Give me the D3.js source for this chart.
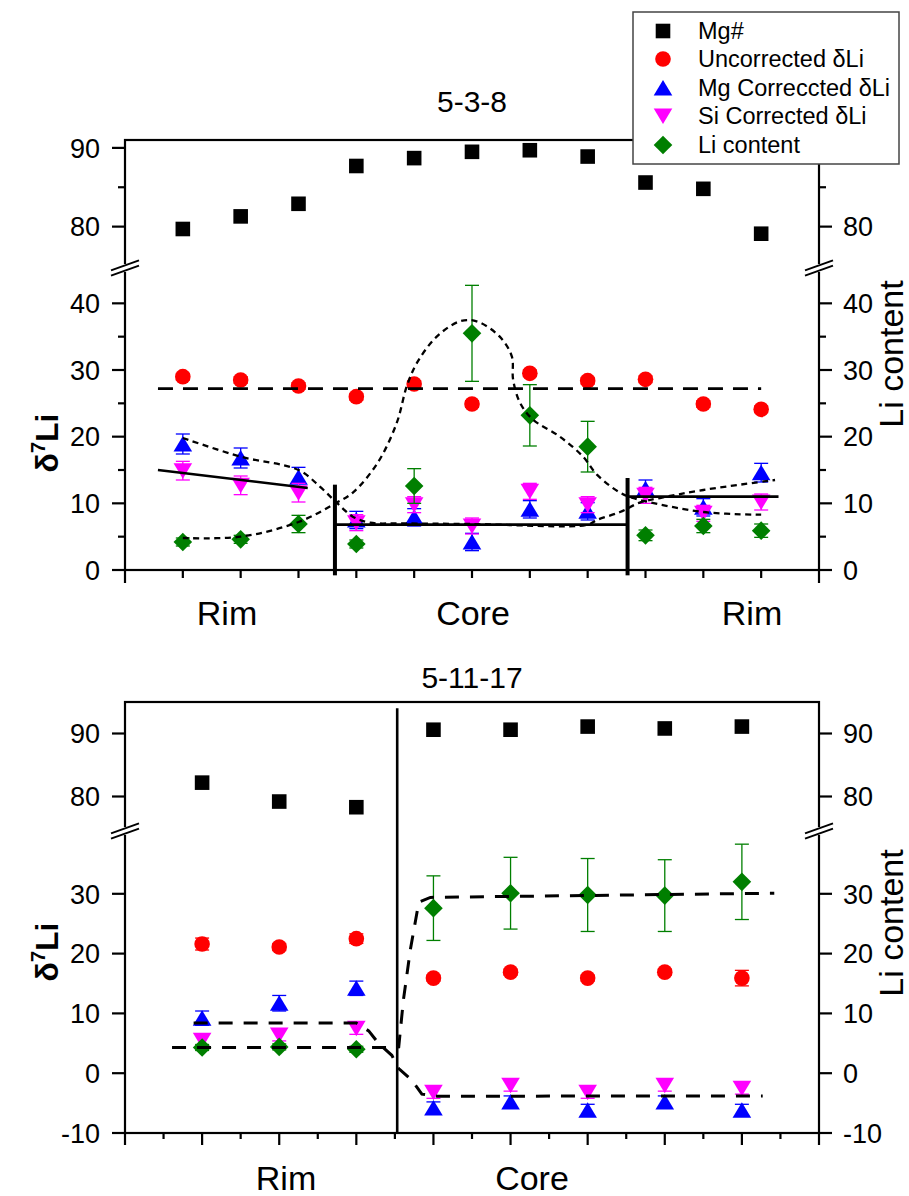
<!DOCTYPE html>
<html>
<head>
<meta charset="utf-8">
<script src="https://cdn.jsdelivr.net/npm/d3@7"></script>
<style>
  body { margin: 0; background: #fff; }
  svg { font-family: "Liberation Sans", Arial, sans-serif; }
</style>
</head>
<body>
<svg id="chart" width="909" height="1196"></svg>
<script>
// ---------------- Sample 5-3-8 : rim - core - rim profile ----------------
const pos538     = [1, 2, 3, 4, 5, 6, 7, 8, 9, 10, 11];
const mg538      = [79.7, 81.3, 82.9, 87.7, 88.7, 89.5, 89.7, 88.9, 85.6, 84.8, 79.1];
const unc538     = [29.0, 28.5, 27.6, 26.0, 27.9, 24.9, 29.5, 28.4, 28.6, 24.9, 24.1];
const uncErr538  = [0.5, 0.5, 0.5, 0.5, 0.5, 0.5, 0.5, 0.5, 0.5, 0.5, 0.5];
const mgc538     = [18.9, 16.8, 13.9, 7.5, 7.9, 4.2, 9.1, 8.8, 12.2, 9.4, 14.6];
const mgcErr538  = [1.5, 1.5, 1.5, 1.3, 1.3, 1.3, 1.3, 1.3, 1.3, 1.3, 1.4];
const sic538     = [14.9, 12.7, 11.6, 7.1, 9.8, 6.6, 11.8, 9.8, 11.2, 8.5, 10.2];
const sicErr538  = [1.4, 1.4, 1.4, 1.2, 1.2, 1.2, 1.2, 1.2, 1.2, 1.2, 1.2];
const li538      = [4.2, 4.6, 6.9, 3.9, 12.6, 35.5, 23.2, 18.5, 5.2, 6.6, 5.9];
const liErr538   = [0.6, 0.6, 1.3, 0.6, 2.6, 7.2, 4.6, 3.8, 0.8, 1.0, 1.0];

// trend lines of 5-3-8
const uncMean538   = 27.2;
const uncMeanSpan  = [0.57, 11.0];
const rimFitLeft   = [[0.57, 15.0], [3.16, 12.3]];
const coreFit538   = [[3.63, 6.8], [8.69, 6.8]];
const rimFitRight  = [[8.69, 11.0], [11.3, 11.0]];
const zoneBounds538 = [[3.63, 12.8], [8.69, 13.8]];
const mgTrend538 = [[1.0, 19.8], [2.0, 17.0], [3.0, 15.0], [3.37, 12.5], [3.66, 10.1], [3.94, 8.0],
  [4.24, 7.1], [4.8, 7.0], [6.0, 6.9], [8.0, 6.8], [8.16, 7.5], [8.56, 8.7], [8.9, 10.1],
  [9.25, 10.8], [10.0, 12.0], [11.24, 13.5]];
const liTrend538 = [[1.0, 4.8], [2.0, 5.0], [3.0, 7.2], [3.66, 10.1], [3.94, 11.6], [4.37, 16.1],
  [4.7, 22.1], [4.87, 27.5], [5.05, 31.1], [5.39, 35.0], [5.79, 37.3], [6.08, 37.3], [6.48, 35.0],
  [6.69, 32.0], [6.71, 28.6], [6.83, 25.1], [7.05, 22.6], [7.52, 20.0], [7.92, 17.0], [8.16, 14.3],
  [8.56, 11.6], [8.78, 10.8], [10.0, 8.7], [11.0, 8.3]];

// ---------------- Sample 5-11-17 : rim - core profile ----------------
const pos51117    = [1, 2, 3, 4, 5, 6, 7, 8];
const mg51117     = [82.2, 79.2, 78.3, 90.6, 90.6, 91.1, 90.8, 91.1];
const unc51117    = [21.6, 21.1, 22.5, 15.9, 16.9, 15.9, 16.9, 15.9];
const uncErr51117 = [1.0, 0.6, 0.8, 0.5, 0.5, 0.5, 0.5, 1.3];
const mgc51117    = [9.2, 11.7, 14.2, -5.8, -4.8, -6.2, -4.8, -6.2];
const mgcErr51117 = [1.2, 1.3, 1.2, 1.0, 1.0, 1.0, 1.0, 1.0];
const sic51117    = [5.5, 6.4, 7.5, -3.2, -2.0, -3.2, -2.0, -2.5];
const sicErr51117 = [1.0, 1.0, 1.0, 1.0, 1.0, 1.0, 1.0, 1.0];
const li51117     = [4.3, 4.4, 4.0, 27.6, 30.1, 29.8, 29.7, 32.0];
const liErr51117  = [0.5, 0.5, 0.5, 5.4, 6.0, 6.1, 6.0, 6.3];

// trend lines of 5-11-17
const zoneBound51117 = 3.53;
const mgTrend51117 = [[0.89, 8.4], [3.0, 8.4], [3.16, 7.07], [3.29, 4.96], [3.46, 3.0], [3.55, 0.78],
  [3.72, -1.17], [3.85, -3.5], [4.05, -3.85], [8.27, -3.8]];
const liTrend51117 = [[0.61, 4.3], [3.45, 4.3], [3.55, 4.4], [3.61, 12.2], [3.70, 20.6], [3.81, 28.6],
  [3.96, 29.4], [8.42, 30.1]];

// ---------------- labels ----------------
const legendLabels = ["Mg#", "Uncorrected δLi", "Mg Correccted δLi", "Si Corrected δLi", "Li content"];
const colors = { mg: "#000000", unc: "#ff0000", mgc: "#0000ff", sic: "#ff00ff", li: "#007f00" };

const svg = d3.select("#chart");

// marker shapes centred on their bounding box
function marker(kind) {
  switch (kind) {
    case "square": return "M-7.3,-7.3H7.3V7.3H-7.3Z";
    case "up":     return "M0,-8L9.3,7.5L-9.3,7.5Z";
    case "down":   return "M0,8L9.3,-7.5L-9.3,-7.5Z";
    case "diamond":return "M0,-9.3L9.3,0L0,9.3L-9.3,0Z";
    default:       return null;
  }
}

function drawSeries(g, x, y, xs, ys, errs, kind, color) {
  if (errs) {
    const eb = g.append("g").attr("stroke", color).attr("stroke-width", 1.3);
    xs.forEach((p, i) => {
      const cx = x(p), lo = y(ys[i] - errs[i]), hi = y(ys[i] + errs[i]);
      eb.append("line").attr("x1", cx).attr("x2", cx).attr("y1", lo).attr("y2", hi);
      eb.append("line").attr("x1", cx - 7).attr("x2", cx + 7).attr("y1", lo).attr("y2", lo);
      eb.append("line").attr("x1", cx - 7).attr("x2", cx + 7).attr("y1", hi).attr("y2", hi);
    });
  }
  const mg = g.append("g").attr("fill", color);
  xs.forEach((p, i) => {
    if (kind === "circle") {
      mg.append("circle").attr("cx", x(p)).attr("cy", y(ys[i])).attr("r", 7.8);
    } else {
      mg.append("path").attr("d", marker(kind))
        .attr("transform", `translate(${x(p)},${y(ys[i])})`);
    }
  });
}

function breakMark(g, cx, cy) {
  g.append("rect").attr("x", cx - 3).attr("y", cy - 4).attr("width", 6).attr("height", 8).attr("fill", "#fff");
  [-2.6, 2.6].forEach(o => {
    g.append("line").attr("x1", cx - 14).attr("y1", cy + 5 + o).attr("x2", cx + 14).attr("y2", cy - 5 + o)
      .attr("stroke", "#000").attr("stroke-width", 2);
  });
}

function yAxisTicks(g, scale, side, xPos, majors, minors, labelled) {
  const dir = side === "left" ? -1 : 1;
  majors.forEach(v => {
    g.append("line").attr("x1", xPos).attr("x2", xPos + dir * 13).attr("y1", scale(v)).attr("y2", scale(v))
      .attr("stroke", "#000").attr("stroke-width", 2.2);
    if (labelled) {
      g.append("text").attr("x", xPos + dir * (side === "left" ? 25 : 24)).attr("y", scale(v)).attr("dy", "0.36em")
        .attr("text-anchor", side === "left" ? "end" : "start")
        .attr("font-size", 27).text(v);
    }
  });
  minors.forEach(v => {
    g.append("line").attr("x1", xPos).attr("x2", xPos + dir * 7).attr("y1", scale(v)).attr("y2", scale(v))
      .attr("stroke", "#000").attr("stroke-width", 2.2);
  });
}

function deltaTitle(g, cx, cy) {
  const t = g.append("text").attr("transform", `translate(${cx},${cy}) rotate(-90)`)
    .attr("text-anchor", "middle").attr("font-size", 32).attr("font-weight", "bold");
  t.append("tspan").text("δ");
  t.append("tspan").attr("font-size", 20).attr("dy", -13).text("7");
  t.append("tspan").attr("dy", 13).text("Li");
}

function liTitle(g, cx, cy) {
  g.append("text").attr("transform", `translate(${cx},${cy}) rotate(-90)`)
    .attr("text-anchor", "middle").attr("font-size", 34).text("Li content");
}

const lineGen = (x, y) => d3.line().x(d => x(d[0])).y(d => y(d[1]));

// ======================= panel 5-3-8 =======================
{
  const L = 125, R = 819, T = 140, B = 570, BRK = 268;
  const x = d3.scaleLinear().domain([0, 12]).range([L, R]);
  const yMg = d3.scaleLinear().domain([75, 91]).range([266, T]);
  const yLi = d3.scaleLinear().domain([0, 45]).range([B, 270]);
  const g = svg.append("g");

  // frame
  g.append("rect").attr("x", L).attr("y", T).attr("width", R - L).attr("height", B - T)
    .attr("fill", "none").attr("stroke", "#000").attr("stroke-width", 2.2);

  // x ticks
  d3.range(0, 13).forEach(v => {
    const len = (v === 0 || v === 12) ? 13 : 8;
    g.append("line").attr("x1", x(v)).attr("x2", x(v)).attr("y1", B).attr("y2", B + len)
      .attr("stroke", "#000").attr("stroke-width", 2.2);
  });

  // y ticks, both sides
  [["left", L], ["right", R]].forEach(([side, xp]) => {
    yAxisTicks(g, yMg, side, xp, [80, 90], [85], true);
    yAxisTicks(g, yLi, side, xp, [0, 10, 20, 30, 40], [5, 15, 25, 35], true);
    breakMark(g, xp, BRK);
  });

  // data
  drawSeries(g, x, yMg, pos538, mg538, null, "square", colors.mg);
  drawSeries(g, x, yLi, pos538, unc538, uncErr538, "circle", colors.unc);
  drawSeries(g, x, yLi, pos538, mgc538, mgcErr538, "up", colors.mgc);
  drawSeries(g, x, yLi, pos538, sic538, sicErr538, "down", colors.sic);
  drawSeries(g, x, yLi, pos538, li538, liErr538, "diamond", colors.li);

  // mean of uncorrected values
  g.append("line").attr("x1", x(uncMeanSpan[0])).attr("x2", x(uncMeanSpan[1]))
    .attr("y1", yLi(uncMean538)).attr("y2", yLi(uncMean538))
    .attr("stroke", "#000").attr("stroke-width", 2.6).attr("stroke-dasharray", "15,10");

  // zone fits
  [rimFitLeft, coreFit538, rimFitRight].forEach(seg => {
    g.append("path").attr("d", lineGen(x, yLi)(seg)).attr("fill", "none")
      .attr("stroke", "#000").attr("stroke-width", 2.6);
  });
  zoneBounds538.forEach(([p, top]) => {
    g.append("line").attr("x1", x(p)).attr("x2", x(p)).attr("y1", yLi(top)).attr("y2", yLi(-0.8))
      .attr("stroke", "#000").attr("stroke-width", 4);
  });

  // dotted trends
  const smooth = d3.line().x(d => x(d[0])).y(d => yLi(d[1])).curve(d3.curveCatmullRom);
  [mgTrend538, liTrend538].forEach(tr => {
    g.append("path").attr("d", smooth(tr)).attr("fill", "none")
      .attr("stroke", "#000").attr("stroke-width", 2.3).attr("stroke-dasharray", "6,4.5");
  });

  // labels
  g.append("text").attr("x", 472).attr("y", 112).attr("text-anchor", "middle").attr("font-size", 30).text("5-3-8");
  [["Rim", 227], ["Core", 473], ["Rim", 752]].forEach(([t, cx]) => {
    g.append("text").attr("x", cx).attr("y", 625).attr("text-anchor", "middle").attr("font-size", 34).text(t);
  });
  deltaTitle(g, 58, 443);
  liTitle(g, 903, 354);
}

// ======================= panel 5-11-17 =======================
{
  const L = 125, R = 819, T = 702, B = 1133, BRK = 831;
  const x = d3.scaleLinear().domain([0, 9]).range([L, R]);
  const yMg = d3.scaleLinear().domain([75, 95]).range([828, T]);
  const yLi = d3.scaleLinear().domain([-10, 40]).range([B, 834]);
  const g = svg.append("g");

  g.append("rect").attr("x", L).attr("y", T).attr("width", R - L).attr("height", B - T)
    .attr("fill", "none").attr("stroke", "#000").attr("stroke-width", 2.2);

  // x ticks: integers long, halves short
  d3.range(0, 9.01, 0.5).forEach(v => {
    const len = Number.isInteger(v) ? 12 : 6;
    g.append("line").attr("x1", x(v)).attr("x2", x(v)).attr("y1", B).attr("y2", B + len)
      .attr("stroke", "#000").attr("stroke-width", 2.2);
  });

  [["left", L], ["right", R]].forEach(([side, xp]) => {
    yAxisTicks(g, yMg, side, xp, [80, 90], [], true);
    yAxisTicks(g, yLi, side, xp, [-10, 0, 10, 20, 30], [], true);
    breakMark(g, xp, BRK);
  });

  drawSeries(g, x, yMg, pos51117, mg51117, null, "square", colors.mg);
  drawSeries(g, x, yLi, pos51117, unc51117, uncErr51117, "circle", colors.unc);
  drawSeries(g, x, yLi, pos51117, mgc51117, mgcErr51117, "up", colors.mgc);
  drawSeries(g, x, yLi, pos51117, sic51117, sicErr51117, "down", colors.sic);
  drawSeries(g, x, yLi, pos51117, li51117, liErr51117, "diamond", colors.li);

  // rim / core boundary
  g.append("line").attr("x1", x(zoneBound51117)).attr("x2", x(zoneBound51117))
    .attr("y1", yMg(94.0)).attr("y2", B).attr("stroke", "#000").attr("stroke-width", 2.6);

  [mgTrend51117, liTrend51117].forEach(tr => {
    g.append("path").attr("d", lineGen(x, yLi)(tr)).attr("fill", "none")
      .attr("stroke", "#000").attr("stroke-width", 3).attr("stroke-dasharray", "14,11");
  });

  g.append("text").attr("x", 472).attr("y", 688).attr("text-anchor", "middle").attr("font-size", 30).text("5-11-17");
  [["Rim", 286], ["Core", 532]].forEach(([t, cx]) => {
    g.append("text").attr("x", cx).attr("y", 1190).attr("text-anchor", "middle").attr("font-size", 34).text(t);
  });
  deltaTitle(g, 58, 952);
  liTitle(g, 903, 923);
}

// ======================= legend =======================
{
  const g = svg.append("g");
  g.append("rect").attr("x", 633).attr("y", 12).attr("width", 266).attr("height", 152)
    .attr("fill", "#fff").attr("stroke", "#444").attr("stroke-width", 1.5);
  const kinds = [["square", colors.mg], ["circle", colors.unc], ["up", colors.mgc], ["down", colors.sic], ["diamond", colors.li]];
  const rowY = [31, 59, 88, 116, 145];
  legendLabels.forEach((lab, i) => {
    const [k, c] = kinds[i];
    if (k === "circle") {
      g.append("circle").attr("cx", 663).attr("cy", rowY[i]).attr("r", 7.8).attr("fill", c);
    } else {
      g.append("path").attr("d", marker(k)).attr("fill", c).attr("transform", `translate(663,${rowY[i]})`);
    }
    g.append("text").attr("x", 698).attr("y", rowY[i]).attr("dy", "0.36em").attr("font-size", 23.5).text(lab);
  });
}
</script>
</body>
</html>
